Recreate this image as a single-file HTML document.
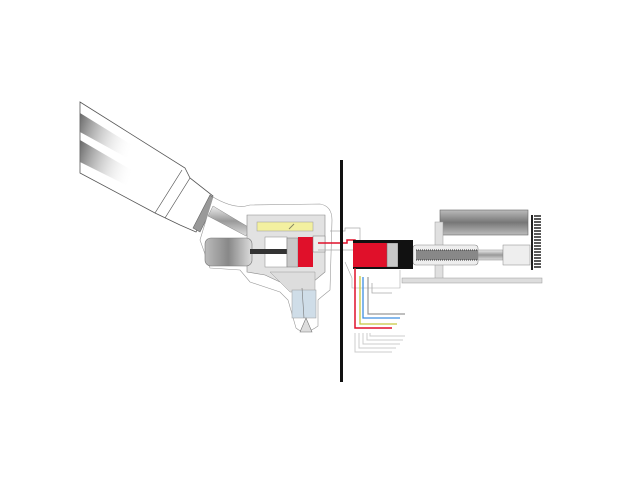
<!DOCTYPE html>
<html><head><meta charset="utf-8"><style>html,body{margin:0;padding:0;background:#fff}svg{display:block}</style></head>
<body>
<svg width="640" height="480" viewBox="0 0 640 480" xmlns="http://www.w3.org/2000/svg">
<defs>
<linearGradient id="bg" x1="0" y1="0" x2="1" y2="0.3"><stop offset="0" stop-color="#666"/><stop offset="1" stop-color="#fff" stop-opacity="0"/></linearGradient>
<linearGradient id="kn" x1="0" y1="0" x2="1" y2="0"><stop offset="0" stop-color="#bbb"/><stop offset="0.5" stop-color="#888"/><stop offset="1" stop-color="#ddd"/></linearGradient>
<linearGradient id="cy" x1="0" y1="0" x2="0" y2="1"><stop offset="0" stop-color="#bbb"/><stop offset="0.5" stop-color="#777"/><stop offset="1" stop-color="#bbb"/></linearGradient>
<linearGradient id="rod" x1="0" y1="0" x2="0" y2="1"><stop offset="0" stop-color="#eee"/><stop offset="0.5" stop-color="#999"/><stop offset="1" stop-color="#ddd"/></linearGradient>
</defs>
<!-- arm -->
<polygon points="80,102 185,168 190,178 213,196 196,232 180,225 155,213 80,173" fill="#fff" stroke="#555" stroke-width="0.8"/>
<polygon points="80,113 140,150 140,165 80,132" fill="url(#bg)"/>
<polygon points="80,140 140,175 140,192 80,162" fill="url(#bg)"/>
<line x1="182" y1="170" x2="155" y2="213" stroke="#555" stroke-width="0.7"/>
<line x1="190" y1="178" x2="165" y2="218" stroke="#555" stroke-width="0.7"/>
<polygon points="210,195 216,200 200,232 193,228" fill="#999" stroke="#666" stroke-width="0.6"/>
<!-- head outline -->
<path d="M213,197 Q235,210 250,205 L320,204 Q332,206 332,220 L330,290 Q320,298 318,300 L318,326 Q305,336 296,328 L288,300 L280,292 L250,282 L240,270 L210,268 L200,240 Z" fill="#fff" stroke="#999" stroke-width="0.6"/>
<!-- shaft to knob -->
<polygon points="213,206 250,228 246,236 208,216" fill="url(#rod)" stroke="#888" stroke-width="0.5"/>
<!-- body -->
<path d="M247,215 L325,215 L325,272 L313,282 L290,286 L280,282 L265,275 L247,272 Z" fill="#e2e2e2" stroke="#888" stroke-width="0.6"/>
<path d="M270,272 L315,272 L315,292 L290,292 Z" fill="#ddd" stroke="#999" stroke-width="0.5"/>
<rect x="257" y="222" width="56" height="9" fill="#f3f0a0" stroke="#999" stroke-width="0.5"/>
<line x1="289" y1="229" x2="294" y2="224" stroke="#886" stroke-width="1"/>
<rect x="205" y="238" width="47" height="28" rx="6" fill="url(#kn)" stroke="#777" stroke-width="0.6"/>
<rect x="265" y="237" width="22" height="30" fill="#fff" stroke="#888" stroke-width="0.5"/>
<rect x="250" y="249" width="38" height="5" fill="#333"/>
<rect x="287" y="238" width="11" height="29" fill="#c8c8c8" stroke="#777" stroke-width="0.5"/>
<rect x="298" y="237" width="15" height="30" fill="#e0102a"/>
<rect x="313" y="236" width="12" height="16" fill="#eee" stroke="#777" stroke-width="0.5"/>
<!-- nozzle -->
<rect x="292" y="290" width="24" height="28" fill="#cfdde8" stroke="#999" stroke-width="0.5"/>
<line x1="302" y1="288" x2="304" y2="318" stroke="#777" stroke-width="0.6"/>
<polygon points="300,332 306,318 312,332" fill="#ddd" stroke="#777" stroke-width="0.6"/>
<!-- red line & connectors -->
<polyline points="318,243 347,243 347,240 355,240 355,244" fill="none" stroke="#e0102a" stroke-width="1.5"/>
<polyline points="318,250 355,250" fill="none" stroke="#aaa" stroke-width="0.7"/>
<polyline points="330,231 345,231 345,228 360,228 360,242" fill="none" stroke="#aaa" stroke-width="0.7"/>
<!-- wall -->
<rect x="340" y="160" width="3" height="222" fill="#111"/>
<!-- right mechanism -->
<rect x="440" y="210" width="88" height="25" fill="url(#cy)" stroke="#666" stroke-width="0.6"/>
<rect x="435" y="222" width="8" height="58" fill="#e0e0e0" stroke="#999" stroke-width="0.5"/>
<rect x="402" y="278" width="140" height="5" fill="#ddd" stroke="#999" stroke-width="0.5"/>
<rect x="413" y="245" width="65" height="20" rx="3" fill="#eee" stroke="#888" stroke-width="0.6"/>
<rect x="416" y="250" width="62" height="10" fill="#888"/>
<line x1="416" y1="250" x2="478" y2="250" stroke="#333" stroke-width="1" stroke-dasharray="1,1"/>
<line x1="416" y1="260" x2="478" y2="260" stroke="#333" stroke-width="1" stroke-dasharray="1,1"/>
<rect x="478" y="250" width="25" height="10" fill="url(#rod)" stroke="#888" stroke-width="0.5"/>
<rect x="503" y="245" width="27" height="20" fill="#eee" stroke="#888" stroke-width="0.5"/>
<g fill="#222">
<rect x="532" y="215" width="8" height="55" fill="none"/>
</g>
<path d="M532,215 v55" stroke="#222" stroke-width="2"/>
<path d="M534,216 h7 M534,219 h7 M534,222 h7 M534,225 h7 M534,228 h7 M534,231 h7 M534,234 h7 M534,237 h7 M534,240 h7 M534,243 h7 M534,246 h7 M534,249 h7 M534,252 h7 M534,255 h7 M534,258 h7 M534,261 h7 M534,264 h7 M534,267 h7" stroke="#222" stroke-width="1.5"/>
<rect x="353" y="242" width="34" height="26" fill="#e0102a"/>
<rect x="387" y="243" width="11" height="24" fill="#c8c8c8" stroke="#666" stroke-width="0.5"/>
<rect x="398" y="243" width="15" height="24" fill="#111"/>
<rect x="353" y="240" width="60" height="3" fill="#111"/>
<rect x="353" y="267" width="60" height="2" fill="#111"/>
<polyline points="345,262 352,278 352,288 400,288 400,270" fill="none" stroke="#aaa" stroke-width="0.6"/>
<!-- colored lines -->
<polyline points="355,268 355,328 392,328" fill="none" stroke="#e0102a" stroke-width="1.5"/>
<polyline points="360,276 360,324 397,324" fill="none" stroke="#c8c840" stroke-width="1.3"/>
<polyline points="363,277 363,318 400,318" fill="none" stroke="#3d8fe0" stroke-width="1.3"/>
<polyline points="368,277 368,314 405,314" fill="none" stroke="#999" stroke-width="1.2"/>
<polyline points="372,283 372,293 392,293" fill="none" stroke="#aaa" stroke-width="0.8"/>
<g fill="none" stroke="#ccc" stroke-width="1">
<polyline points="355,333 355,352 392,352"/>
<polyline points="359,333 359,348 396,348"/>
<polyline points="363,333 363,344 400,344"/>
<polyline points="367,333 367,340 403,340"/>
<polyline points="370,333 370,336 405,336"/>
</g>
</svg>
</body></html>
